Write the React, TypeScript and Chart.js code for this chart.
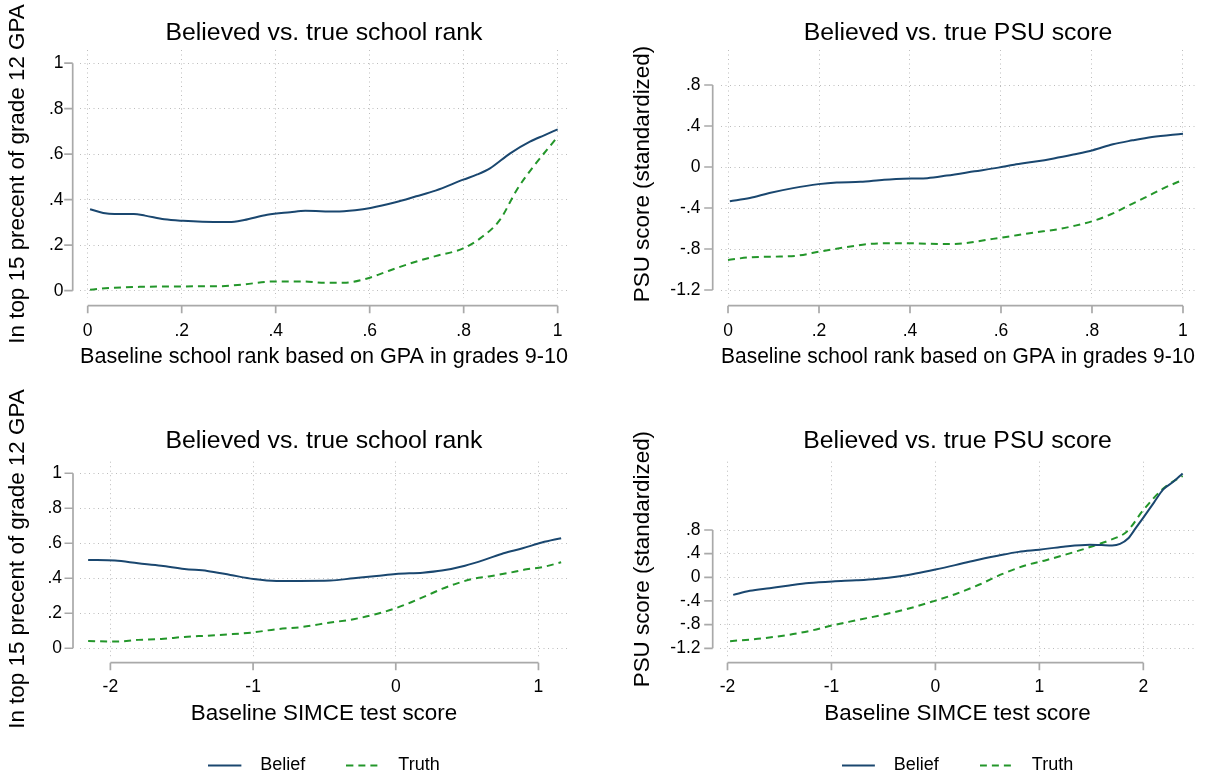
import React, { useEffect, useRef } from 'react';
import { Chart, registerables } from 'chart.js';

Chart.register(...registerables);

const FONT = '"Liberation Sans", Arial, Helvetica, sans-serif';
const NAVY = '#1a476f';
const GREEN = '#23962a';
const GRID = '#bdbdbd';
const AXIS = '#a9a9a9';

// ---------- text ----------
const SERIES_NAMES = ['Belief', 'Truth'];
const TITLE_RANK = 'Believed vs. true school rank';
const TITLE_PSU = 'Believed vs. true PSU score';
const YTITLE_RANK = 'In top 15 precent of grade 12 GPA';
const YTITLE_PSU = 'PSU score (standardized)';
const XTITLE_GPA = 'Baseline school rank based on GPA in grades 9-10';
const XTITLE_SIMCE = 'Baseline SIMCE test score';

// ---------- tick values / labels ----------
const UNIT_TICKS = [0, 0.2, 0.4, 0.6, 0.8, 1];
const UNIT_LABELS = ['0', '.2', '.4', '.6', '.8', '1'];
const PSU_TICKS = [-1.2, -0.8, -0.4, 0, 0.4, 0.8];
const PSU_LABELS = ['-1.2', '-.8', '-.4', '0', '.4', '.8'];
const SIMCE_TICKS_L = [-2, -1, 0, 1];
const SIMCE_LABELS_L = ['-2', '-1', '0', '1'];
const SIMCE_TICKS_R = [-2, -1, 0, 1, 2];
const SIMCE_LABELS_R = ['-2', '-1', '0', '1', '2'];

// ---------- panel 1: rank vs GPA rank ----------
const rankGpaBeliefX = [0.005, 0.033, 0.057, 0.098, 0.122, 0.163, 0.203, 0.244, 0.301, 0.333, 0.382, 0.431, 0.463, 0.528, 0.569, 0.602, 0.655, 0.699, 0.740, 0.799, 0.829, 0.856, 0.899, 0.941, 0.970, 1.0];
const rankGpaBeliefY = [0.358, 0.342, 0.337, 0.337, 0.330, 0.314, 0.307, 0.303, 0.302, 0.311, 0.334, 0.345, 0.351, 0.348, 0.354, 0.364, 0.389, 0.415, 0.440, 0.488, 0.511, 0.538, 0.604, 0.655, 0.682, 0.709];
const rankGpaTruthX = [0.005, 0.026, 0.057, 0.111, 0.200, 0.285, 0.333, 0.398, 0.455, 0.504, 0.545, 0.593, 0.626, 0.659, 0.707, 0.740, 0.799, 0.835, 0.877, 0.913, 0.948, 0.977, 1.0];
const rankGpaTruthY = [0.004, 0.009, 0.013, 0.017, 0.019, 0.020, 0.028, 0.041, 0.041, 0.035, 0.035, 0.053, 0.076, 0.101, 0.133, 0.152, 0.186, 0.230, 0.311, 0.443, 0.545, 0.619, 0.677];

// ---------- panel 2: PSU vs GPA rank ----------
const psuGpaBeliefX = [0.004, 0.048, 0.091, 0.143, 0.199, 0.239, 0.291, 0.343, 0.403, 0.438, 0.481, 0.542, 0.594, 0.629, 0.672, 0.716, 0.759, 0.802, 0.846, 0.889, 0.932, 1.0];
const psuGpaBeliefY = [-0.334, -0.302, -0.254, -0.206, -0.167, -0.151, -0.145, -0.125, -0.113, -0.109, -0.084, -0.042, -0.006, 0.023, 0.051, 0.084, 0.122, 0.164, 0.222, 0.260, 0.293, 0.325];
const psuGpaTruthX = [0.0, 0.048, 0.1, 0.152, 0.204, 0.256, 0.308, 0.369, 0.421, 0.473, 0.516, 0.568, 0.611, 0.672, 0.724, 0.759, 0.802, 0.846, 0.880, 0.915, 0.958, 1.0];
const psuGpaTruthY = [-0.907, -0.881, -0.875, -0.865, -0.823, -0.785, -0.752, -0.743, -0.746, -0.752, -0.746, -0.711, -0.682, -0.640, -0.608, -0.576, -0.527, -0.453, -0.376, -0.302, -0.206, -0.125];

// ---------- panel 3: rank vs SIMCE ----------
const rankSimceBeliefX = [-2.156, -1.968, -1.806, -1.644, -1.482, -1.321, -1.159, -0.997, -0.836, -0.674, -0.458, -0.296, -0.135, 0.0, 0.189, 0.323, 0.485, 0.620, 0.755, 0.889, 1.024, 1.159];
const rankSimceBeliefY = [0.505, 0.501, 0.486, 0.472, 0.453, 0.442, 0.419, 0.396, 0.385, 0.385, 0.387, 0.400, 0.413, 0.425, 0.432, 0.444, 0.472, 0.505, 0.543, 0.571, 0.604, 0.629];
const rankSimceTruthX = [-2.156, -1.968, -1.806, -1.644, -1.482, -1.321, -1.159, -0.997, -0.836, -0.674, -0.458, -0.296, -0.135, 0.0, 0.108, 0.216, 0.323, 0.431, 0.539, 0.647, 0.782, 0.916, 1.024, 1.159];
const rankSimceTruthY = [0.042, 0.038, 0.048, 0.053, 0.065, 0.072, 0.080, 0.091, 0.109, 0.120, 0.147, 0.166, 0.196, 0.229, 0.263, 0.301, 0.339, 0.371, 0.396, 0.410, 0.429, 0.451, 0.463, 0.491];

// ---------- panel 4: PSU vs SIMCE ----------
const psuSimceBeliefX = [-1.945, -1.785, -1.595, -1.405, -1.216, -0.988, -0.760, -0.570, -0.342, -0.190, 0.0, 0.190, 0.380, 0.600, 0.800, 1.0, 1.231, 1.487, 1.600, 1.700, 1.776, 1.856, 1.930, 2.0, 2.100, 2.192, 2.288, 2.378];
const psuSimceBeliefY = [-0.297, -0.229, -0.183, -0.137, -0.097, -0.069, -0.051, -0.029, 0.017, 0.063, 0.131, 0.206, 0.286, 0.365, 0.430, 0.467, 0.518, 0.552, 0.545, 0.540, 0.565, 0.660, 0.840, 1.010, 1.260, 1.486, 1.615, 1.757];
const psuSimceTruthX = [-1.975, -1.709, -1.405, -1.216, -0.988, -0.760, -0.494, -0.228, 0.0, 0.190, 0.418, 0.646, 0.874, 1.064, 1.292, 1.519, 1.679, 1.840, 2.0, 2.192, 2.378];
const psuSimceTruthY = [-1.080, -1.040, -0.971, -0.909, -0.811, -0.726, -0.629, -0.514, -0.394, -0.286, -0.126, 0.057, 0.206, 0.290, 0.405, 0.530, 0.630, 0.771, 1.137, 1.503, 1.716];

const stataAxes = {
  id: 'stataAxes',
  afterDraw(chart: any, _args: any, opts: any) {
    const { ctx, chartArea } = chart;
    const xs = chart.scales.x;
    const ys = chart.scales.y;
    ctx.save();
    ctx.strokeStyle = opts.color;
    ctx.lineWidth = opts.width;
    ctx.setLineDash([]);
    ctx.beginPath();
    const yp = ys.ticks.map((t: any) => ys.getPixelForValue(t.value));
    const ax = chartArea.left - opts.gapY;
    ctx.moveTo(ax, Math.max(...yp));
    ctx.lineTo(ax, Math.min(...yp));
    yp.forEach((p: number) => {
      ctx.moveTo(ax - opts.tickY, p);
      ctx.lineTo(ax, p);
    });
    const xp = xs.ticks.map((t: any) => xs.getPixelForValue(t.value));
    const ay = chartArea.bottom + opts.gapX;
    ctx.moveTo(Math.min(...xp), ay);
    ctx.lineTo(Math.max(...xp), ay);
    xp.forEach((p: number) => {
      ctx.moveTo(p, ay);
      ctx.lineTo(p, ay + opts.tickX);
    });
    ctx.stroke();
    ctx.restore();
  },
};

function legendSample(color: string, dash: number[]) {
  const c = document.createElement('canvas');
  c.width = 43;
  c.height = 6;
  const g = c.getContext('2d')!;
  g.strokeStyle = color;
  g.lineWidth = 2;
  g.setLineDash(dash);
  g.beginPath();
  g.moveTo(0, 3);
  g.lineTo(33, 3);
  g.stroke();
  return c;
}

const toPoints = (xs: number[], ys: number[]) => xs.map((x, i) => ({ x, y: ys[i] }));

const TRUTH_DASH = [7, 5];
const LEGEND_BOTTOM = 784.5;
const LEGEND_H = 18 + 41 + 10;
const TITLE_SIZE = 24.8;
const AXIS_TITLE_SIZE = 22.4;
const TICK_SIZE = 17.5;

const PANELS = [
  {
    left: 0, top: 0, w: 609, h: 388,
    area: { l: 80, r: 568, t: 50, b: 298 },
    xMin: -0.0164, xMax: 1.022, yMin: -0.032, yMax: 1.058,
    xTicks: UNIT_TICKS, xLabels: UNIT_LABELS, yTicks: UNIT_TICKS, yLabels: UNIT_LABELS,
    title: TITLE_RANK, xTitle: XTITLE_GPA, yTitle: YTITLE_RANK,
    belief: toPoints(rankGpaBeliefX, rankGpaBeliefY), truth: toPoints(rankGpaTruthX, rankGpaTruthY),
    legend: false, titleMid: 33.3, xLabelPad: 22.3, xTitleMid: 356.4, yLabelPad: 16.5, yTitleMid: 17.4, gapY: 7.3, gapX: 7.7,
  },
  {
    left: 609, top: 0, w: 609, h: 388,
    area: { l: 721, r: 1195, t: 50, b: 298 },
    xMin: -0.0154, xMax: 1.0264, yMin: -1.278, yMax: 1.1415,
    xTicks: UNIT_TICKS, xLabels: UNIT_LABELS, yTicks: PSU_TICKS, yLabels: PSU_LABELS,
    title: TITLE_PSU, xTitle: XTITLE_GPA, yTitle: YTITLE_PSU,
    belief: toPoints(psuGpaBeliefX, psuGpaBeliefY), truth: toPoints(psuGpaTruthX, psuGpaTruthY),
    legend: false, titleMid: 33.0, xLabelPad: 22.3, xTitleMid: 356.4, yLabelPad: 20.5, yTitleMid: 642.6, gapY: 8.3, gapX: 7.7,
  },
  {
    left: 0, top: 388, w: 609, h: 397,
    area: { l: 80, r: 568, t: 461.7, b: 656.5 },
    xMin: -2.213, xMax: 1.207, yMin: -0.047, yMax: 1.066,
    xTicks: SIMCE_TICKS_L, xLabels: SIMCE_LABELS_L, yTicks: UNIT_TICKS, yLabels: UNIT_LABELS,
    title: TITLE_RANK, xTitle: XTITLE_SIMCE, yTitle: YTITLE_RANK,
    belief: toPoints(rankSimceBeliefX, rankSimceBeliefY), truth: toPoints(rankSimceTruthX, rankSimceTruthY),
    legend: true, titleMid: 441.6, xLabelPad: 19.8, xTitleMid: 714.1, yLabelPad: 18, yTitleMid: 17.4, gapY: 7, gapX: 6.2,
  },
  {
    left: 609, top: 388, w: 609, h: 397,
    area: { l: 720, r: 1195, t: 461.7, b: 656.5 },
    xMin: -2.072, xMax: 2.497, yMin: -1.339, yMax: 1.955,
    xTicks: SIMCE_TICKS_R, xLabels: SIMCE_LABELS_R, yTicks: PSU_TICKS, yLabels: PSU_LABELS,
    title: TITLE_PSU, xTitle: XTITLE_SIMCE, yTitle: YTITLE_PSU,
    belief: toPoints(psuSimceBeliefX, psuSimceBeliefY), truth: toPoints(psuSimceTruthX, psuSimceTruthY),
    legend: true, titleMid: 441.6, xLabelPad: 19.8, xTitleMid: 714.1, yLabelPad: 19.5, yTitleMid: 642.6, gapY: 7.3, gapX: 6.2,
  },
];

function Panel({ p }: { p: any }) {
  const ref = useRef<HTMLCanvasElement | null>(null);
  useEffect(() => {
    if (!ref.current) return;
    Chart.defaults.font.family = FONT;
    Chart.defaults.color = '#000';
    const canvasBottom = p.top + p.h;
    const bottomPad = p.legend ? canvasBottom - LEGEND_BOTTOM : 0;
    const xScaleBottom = p.legend ? LEGEND_BOTTOM - LEGEND_H : canvasBottom;
    const xH = xScaleBottom - p.area.b;
    const titleBlock = p.area.t - p.top;
    const titleLH = TITLE_SIZE * 1.2;
    const tPadTop = p.titleMid - p.top - titleLH / 2;
    const tPadBottom = titleBlock - titleLH - tPadTop;
    const axisLH = AXIS_TITLE_SIZE * 1.2;
    const samples = [legendSample(NAVY, []), legendSample(GREEN, TRUTH_DASH)];

    const chart = new Chart(ref.current, {
      type: 'line',
      data: {
        datasets: [
          {
            label: SERIES_NAMES[0], data: p.belief, borderColor: NAVY, backgroundColor: NAVY,
            borderWidth: 2, pointRadius: 0, tension: 0.4, cubicInterpolationMode: 'monotone', fill: false,
          },
          {
            label: SERIES_NAMES[1], data: p.truth, borderColor: GREEN, backgroundColor: GREEN,
            borderWidth: 2, borderDash: TRUTH_DASH, pointRadius: 0, tension: 0.4, cubicInterpolationMode: 'monotone', fill: false,
          },
        ],
      },
      options: {
        responsive: false,
        animation: false,
        events: [],
        layout: { padding: { left: 0, top: 0, right: p.left + p.w - p.area.r, bottom: bottomPad } },
        plugins: {
          tooltip: { enabled: false },
          title: {
            display: true, text: p.title, fullSize: false, color: '#000',
            font: { size: TITLE_SIZE, weight: 'normal', family: FONT, lineHeight: 1.2 },
            padding: { top: tPadTop, bottom: tPadBottom },
          },
          legend: {
            display: p.legend, position: 'bottom', fullSize: false,
            labels: {
              usePointStyle: true, pointStyleWidth: 43, padding: 41, color: '#000',
              font: { size: 18, family: FONT },
              generateLabels: (c: any) =>
                Chart.defaults.plugins.legend.labels.generateLabels(c).map((it: any, i: number) => ({ ...it, pointStyle: samples[i] })),
            },
          },
          stataAxes: { color: AXIS, width: 1.7, gapX: p.gapX, gapY: p.gapY, tickX: 7.5, tickY: 8.5 },
        } as any,
        scales: {
          x: {
            type: 'linear', min: p.xMin, max: p.xMax,
            afterBuildTicks: (s: any) => { s.ticks = p.xTicks.map((v: number) => ({ value: v })); },
            afterFit: (s: any) => { s.height = xH; },
            ticks: {
              callback: (_v: any, i: number) => p.xLabels[i], autoSkip: false, maxRotation: 0,
              padding: p.xLabelPad, color: '#000', font: { size: TICK_SIZE, family: FONT },
            },
            grid: { color: GRID, lineWidth: 1, drawTicks: false },
            border: { display: false, dash: [1, 3.5] },
            title: {
              display: true, text: p.xTitle, color: '#000', font: { size: AXIS_TITLE_SIZE, family: FONT, lineHeight: 1.2 },
              padding: { top: 0, bottom: xScaleBottom - p.xTitleMid - axisLH / 2 },
            },
          },
          y: {
            type: 'linear', min: p.yMin, max: p.yMax,
            afterBuildTicks: (s: any) => { s.ticks = p.yTicks.map((v: number) => ({ value: v })); },
            afterFit: (s: any) => { s.width = p.area.l - p.left; },
            ticks: {
              callback: (_v: any, i: number) => p.yLabels[i], autoSkip: false,
              padding: p.yLabelPad, color: '#000', font: { size: TICK_SIZE, family: FONT },
            },
            grid: { color: GRID, lineWidth: 1, drawTicks: false },
            border: { display: false, dash: [1, 3.5] },
            title: {
              display: true, text: p.yTitle, color: '#000', font: { size: AXIS_TITLE_SIZE, family: FONT, lineHeight: 1.2 },
              padding: { top: p.yTitleMid - p.left - axisLH / 2, bottom: 0 },
            },
          },
        },
      } as any,
      plugins: [stataAxes as any],
    });
    return () => chart.destroy();
  }, [p]);

  return (
    <div style={{ position: 'absolute', left: p.left, top: p.top, width: p.w, height: p.h }}>
      <canvas ref={ref} width={p.w} height={p.h} style={{ width: p.w, height: p.h, display: 'block' }} />
    </div>
  );
}

export default function App() {
  return (
    <div style={{ position: 'absolute', left: 0, top: 0, width: 1218, height: 776, overflow: 'hidden', background: '#fff' }}>
      {PANELS.map((p, i) => (
        <Panel key={i} p={p} />
      ))}
    </div>
  );
}
